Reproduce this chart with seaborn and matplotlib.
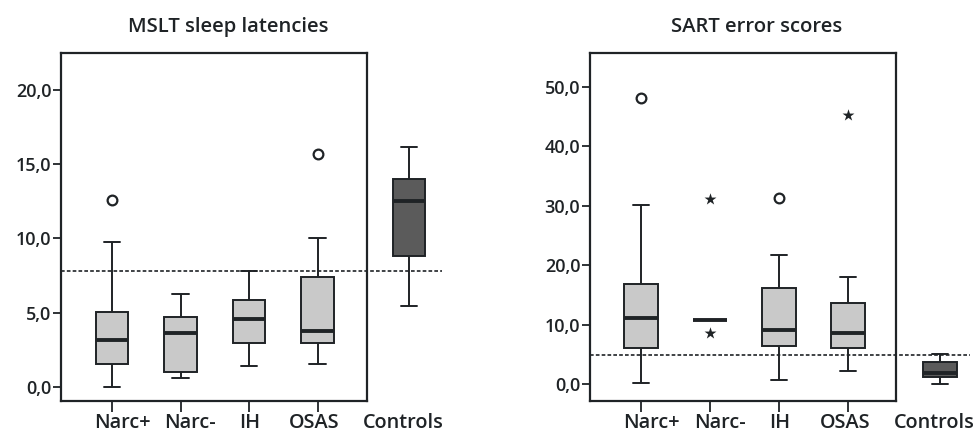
import numpy as np
import pandas as pd
import matplotlib
matplotlib.use("Agg")
import matplotlib.pyplot as plt
import matplotlib.transforms as mtransforms
import seaborn as sns

sns.set_style("white")
plt.rcParams['font.family'] = ['Open Sans', 'DejaVu Sans']
plt.rcParams['font.weight'] = 'semibold'

groups = ["Narc+", "Narc-", "IH", "OSAS"]
control = ["Controls"]

# five-number summaries (lower whisker, Q1, median, Q3, upper whisker)
mslt_narcp = [0.0, 1.55, 3.15, 5.03, 9.78]
mslt_narcm = [0.63, 0.99, 3.66, 4.71, 6.26]
mslt_ih = [1.44, 2.94, 4.57, 5.85, 7.78]
mslt_osas = [1.55, 2.96, 3.74, 7.40, 10.05]
mslt_ctrl = [5.45, 8.84, 12.5, 14.0, 16.15]
mslt_out_groups = ["Narc+", "OSAS"]
mslt_out_values = [12.6, 15.7]
mslt_cutoff = 7.8

sart_narcp = [0.17, 6.15, 11.2, 16.95, 30.1]
sart_narcm = [10.74, 10.74, 10.74, 10.74, 10.74]
sart_ih = [0.78, 6.4, 9.1, 16.2, 21.8]
sart_osas = [2.3, 6.15, 8.67, 13.6, 18.07]
sart_ctrl = [0.0, 1.23, 1.96, 3.8, 5.03]
sart_circ_groups = ["Narc+", "IH"]
sart_circ_values = [48.1, 31.4]
sart_star_groups = ["Narc-", "Narc-", "OSAS"]
sart_star_values = [31.15, 8.67, 45.3]
sart_cutoff = 4.87

mslt_yticks = [0, 5, 10, 15, 20]
mslt_ylabels = ["0,0", "5,0", "10,0", "15,0", "20,0"]
sart_yticks = [0, 10, 20, 30, 40, 50]
sart_ylabels = ["0,0", "10,0", "20,0", "30,0", "40,0", "50,0"]

titles = ["MSLT sleep latencies", "SART error scores"]

LIGHT = "#c9c9c9"
DARK = "#5b5b5b"
INK = "#1f2326"
FS_Y = 13
FS_X = 14.3
FS_T = 14.6
LABEL_SHIFT_PX = [10, 10, 1, -3]
CTRL_SHIFT_PX = -6

W, H = 976, 437
fig = plt.figure(figsize=(W / 100, H / 100), dpi=100)


def px_axes(left, top, right, bottom):
    return fig.add_axes([left / W, 1 - bottom / H, (right - left) / W, (bottom - top) / H])


def long_df(names, arrays):
    rows = []
    for n, a in zip(names, arrays):
        for v in a:
            rows.append((n, v))
    return pd.DataFrame(rows, columns=["group", "value"])


def shift_labels(ax, shifts):
    for lab, dx in zip(ax.get_xticklabels(), shifts):
        lab.set_transform(lab.get_transform() +
                          mtransforms.ScaledTranslation(dx / 100, 0, fig.dpi_scale_trans))


box_kw = dict(whis=(0, 100), width=0.48, saturation=1, linecolor=INK, linewidth=1.4,
              showfliers=False, medianprops=dict(linewidth=2.8, color=INK))


def panel(x0, cat_px, ctrl_px, ylim, arrays, ctrl, yticks, ylabels, title,
          circ_g, circ_v, star_g, star_v, cutoff, line_end_px):
    frame_l, frame_r, top, bottom = x0, x0 + 306, 53, 401
    ax = px_axes(frame_l, top, frame_r, bottom)
    df = long_df(groups, arrays)
    sns.boxplot(data=df, x="group", y="value", order=groups, color=LIGHT, ax=ax, **box_kw)
    if circ_g:
        sns.stripplot(data=pd.DataFrame({"group": circ_g, "value": circ_v}), x="group", y="value",
                      order=groups, jitter=False, marker="o", color="white", edgecolor=INK,
                      linewidth=1.6, size=7, ax=ax, zorder=5)
    if star_g:
        sns.stripplot(data=pd.DataFrame({"group": star_g, "value": star_v}), x="group", y="value",
                      order=groups, jitter=False, marker="*", color=INK, size=9, ax=ax, zorder=5)
    xl = -(cat_px[0] - frame_l) / cat_px[1]
    xr = (frame_r - cat_px[0]) / cat_px[1]
    ax.set_xlim(xl, xr)
    ax.set_ylim(*ylim)
    ax.set_yticks(yticks)
    ax.set_yticklabels(ylabels)
    ax.set_xlabel("")
    ax.set_ylabel("")
    for s in ax.spines.values():
        s.set_visible(True)
        s.set_color(INK)
        s.set_linewidth(1.6)
    ax.tick_params(axis="y", direction="out", colors=INK, labelsize=FS_Y,
                   length=6, width=1.3, left=True, pad=1)
    ax.tick_params(axis="x", direction="out", colors=INK, labelsize=FS_X,
                   length=8, width=1.3, bottom=True, pad=1)
    shift_labels(ax, LABEL_SHIFT_PX)
    ax.set_title(title, fontsize=FS_T, color=INK, x=0.545, pad=15, fontweight="semibold")
    ax.axhline(cutoff, xmin=0, xmax=(line_end_px - frame_l) / 306, color=INK, lw=1.2,
               ls=(0, (2.2, 1.3)), clip_on=False, zorder=1)

    # Controls: separate unframed axes to the right of the frame
    cw = cat_px[1]
    axc = px_axes(ctrl_px - cw / 2, top, ctrl_px + cw / 2, bottom)
    dfc = long_df(control, [ctrl])
    sns.boxplot(data=dfc, x="group", y="value", order=control, color=DARK, ax=axc, **box_kw)
    axc.set_xlim(-0.5, 0.5)
    axc.set_ylim(*ylim)
    axc.set_xlabel("")
    axc.set_ylabel("")
    axc.set_yticks([])
    for s in axc.spines.values():
        s.set_visible(False)
    axc.patch.set_alpha(0)
    axc.tick_params(axis="x", length=0, labelsize=FS_X, colors=INK, pad=9)
    shift_labels(axc, [CTRL_SHIFT_PX])
    return ax


panel(61, (112, 68.5), 409, (-0.94, 22.48),
      [mslt_narcp, mslt_narcm, mslt_ih, mslt_osas], mslt_ctrl, mslt_yticks, mslt_ylabels,
      titles[0], mslt_out_groups, mslt_out_values, [], [], mslt_cutoff, 442)

panel(590, (641, 69), 940, (-2.8, 55.7),
      [sart_narcp, sart_narcm, sart_ih, sart_osas], sart_ctrl, sart_yticks, sart_ylabels,
      titles[1], sart_circ_groups, sart_circ_values, sart_star_groups, sart_star_values,
      sart_cutoff, 970)

fig.savefig("out.png", dpi=100)
